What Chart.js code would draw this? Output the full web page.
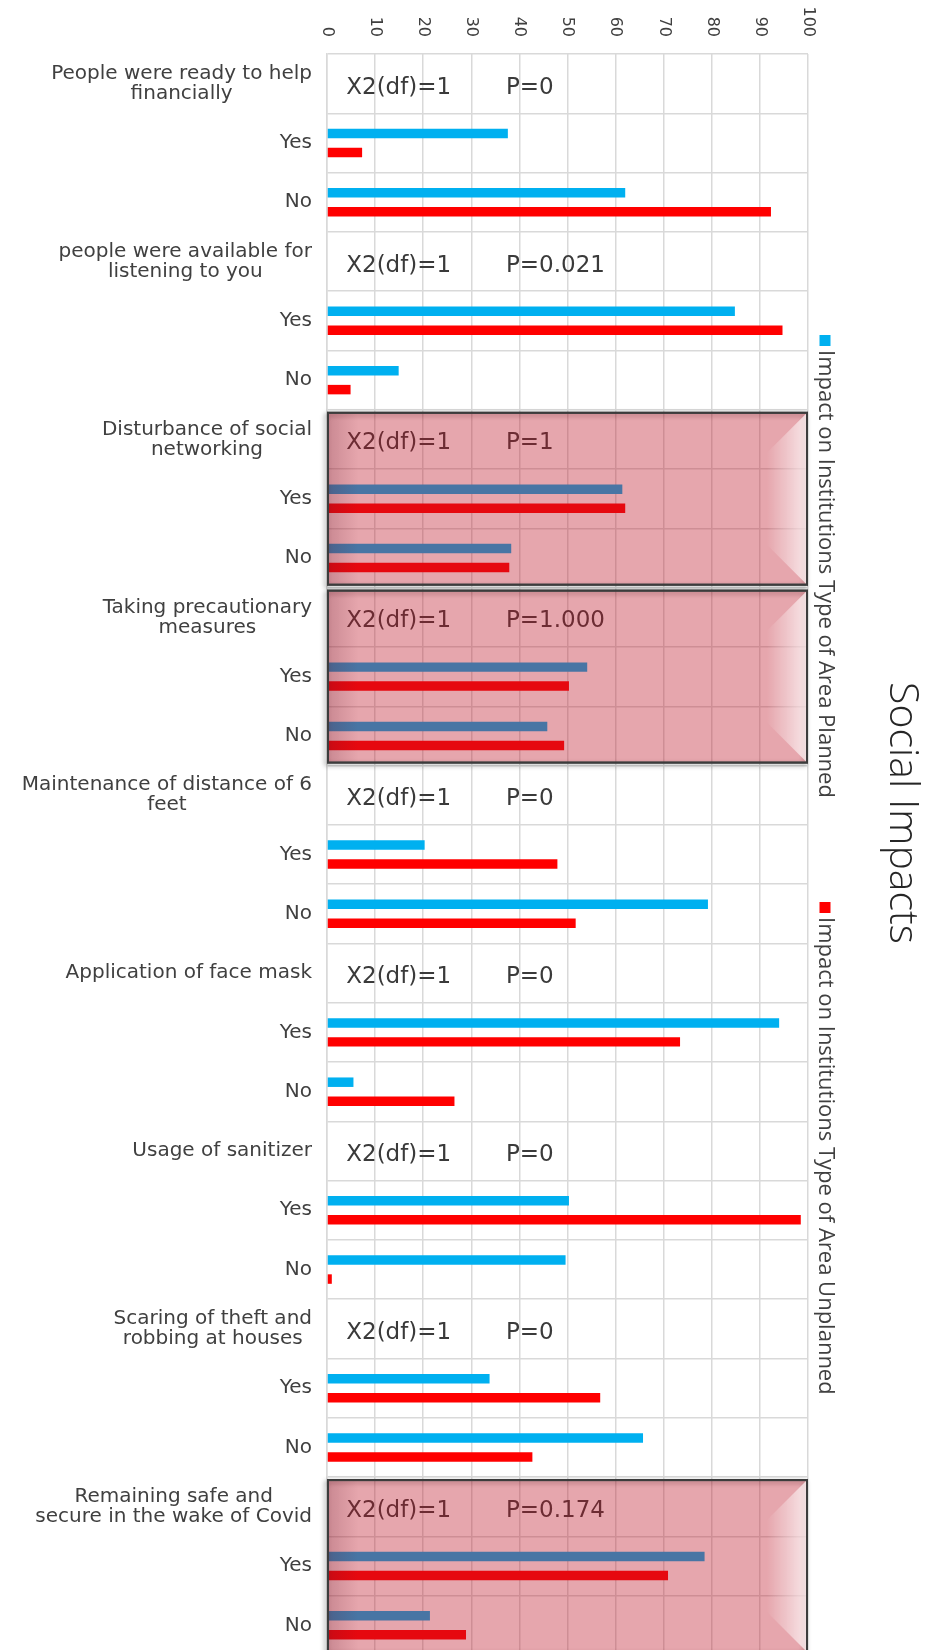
<!DOCTYPE html>
<html>
<head>
<meta charset="utf-8">
<title>Social Impacts</title>
<script src="https://cdn.jsdelivr.net/npm/chart.js@4.4.1/dist/chart.umd.min.js"></script>
<style>
  html, body { margin: 0; padding: 0; background: #ffffff; overflow: hidden; }
  #wrap { position: relative; width: 926px; height: 1656px; }
</style>
</head>
<body>
<div id="wrap"><canvas id="chart"></canvas></div>
<script>
// ---- data -------------------------------------------------------------
const questions = [
  ["People were ready to help", "financially"],
  ["people were available for", "listening to you"],
  ["Disturbance of social", "networking"],
  ["Taking precautionary", "measures"],
  ["Maintenance of distance of 6", "feet"],
  ["Application of face mask"],
  ["Usage of sanitizer"],
  ["Scaring of theft and", "robbing at houses"],
  ["Remaining safe and", "secure in the wake of Covid"]
];
const answers = ["Yes", "No"];
const chiSquare = ["X2(df)=1", "X2(df)=1", "X2(df)=1", "X2(df)=1", "X2(df)=1",
                   "X2(df)=1", "X2(df)=1", "X2(df)=1", "X2(df)=1"];
const pValues = ["P=0", "P=0.021", "P=1", "P=1.000", "P=0", "P=0", "P=0", "P=0", "P=0.174"];

const plannedYes   = [37.6, 84.8, 61.4, 54.1, 20.3, 94.0, 50.3, 33.8, 78.5];
const plannedNo    = [62.0, 14.9, 38.3, 45.8, 79.2,  5.5, 49.6, 65.7, 21.4];
const unplannedYes = [ 7.3, 94.7, 62.0, 50.3, 47.9, 73.4, 98.5, 56.8, 70.9];
const unplannedNo  = [92.3,  4.9, 37.9, 49.3, 51.7, 26.5,  1.0, 42.7, 28.9];

const seriesNames = ["Impact on Institutions Type of Area Planned",
                     "Impact on Institutions Type of Area Unplanned"];
const chartTitle = "Social Impacts";

// groups framed by a shaded box (question index)
const boxedQuestions = [2, 3, 8];

// value axis
const axisMin = 0, axisMax = 100, axisStep = 10;

// ---- build rows: question header row, then Yes, then No ---------------
const labels = [], planned = [], unplanned = [];
questions.forEach((q, i) => {
  labels.push(q, answers[0], answers[1]);
  planned.push(null, plannedYes[i], plannedNo[i]);
  unplanned.push(null, unplannedYes[i], unplannedNo[i]);
});

// ---- styling ----------------------------------------------------------
const SANS = '"DejaVu Sans", sans-serif';
const SIDE = '"Open Sans", "DejaVu Sans", sans-serif';
const TEXT = '#404040';
const GRID = '#d9d9d9';

// category labels: blocks right-aligned to the plot, lines centred in a block
const categoryLabels = {
  id: 'categoryLabels',
  afterDraw(chart) {
    const { ctx, chartArea, scales: { y } } = chart;
    ctx.save();
    ctx.font = `20px ${SANS}`;
    ctx.fillStyle = TEXT;
    ctx.textAlign = 'center';
    ctx.textBaseline = 'middle';
    const right = chartArea.left - 15;
    const lineH = 20;
    chart.data.labels.forEach((lab, i) => {
      const lines = Array.isArray(lab) ? lab : [lab];
      const w = Math.max(...lines.map(l => ctx.measureText(l).width));
      const cx = right - w / 2;
      const yc = y.getPixelForTick(i);
      lines.forEach((l, j) => ctx.fillText(l, cx, yc + (j - (lines.length - 1) / 2) * lineH));
    });
    ctx.restore();
  }
};

// value-axis tick labels along the top, turned a quarter clockwise
const topTicks = {
  id: 'topTicks',
  afterDraw(chart) {
    const { ctx, chartArea, scales: { x } } = chart;
    ctx.save();
    ctx.font = `16px ${SANS}`;
    ctx.fillStyle = TEXT;
    ctx.textAlign = 'right';
    ctx.textBaseline = 'middle';
    x.ticks.forEach((t, i) => {
      ctx.save();
      ctx.translate(x.getPixelForTick(i), chartArea.top - 17);
      ctx.rotate(Math.PI / 2);
      ctx.fillText(String(t.value), 0, 0);
      ctx.restore();
    });
    ctx.restore();
  }
};

// chi-square notes in each header row, and the shaded frames over some groups
const groupNotes = {
  id: 'groupNotes',
  afterDatasetsDraw(chart) {
    const { ctx, chartArea, scales: { x, y } } = chart;
    ctx.save();
    ctx.font = `23px ${SANS}`;
    ctx.fillStyle = '#3a3a3a';
    ctx.textAlign = 'left';
    ctx.textBaseline = 'alphabetic';
    questions.forEach((q, i) => {
      const yc = y.getPixelForTick(i * 3) + 10;
      ctx.fillText(chiSquare[i], x.getPixelForValue(4), yc);
      ctx.fillText(pValues[i], x.getPixelForValue(37.2), yc);
    });

    const row = y.getPixelForTick(1) - y.getPixelForTick(0);
    boxedQuestions.forEach(i => {
      const top = y.getPixelForTick(i * 3) - row / 2 + 3;
      const bottom = y.getPixelForTick(i * 3 + 2) + row / 2 - 3;
      const left = chartArea.left + 1, right = chartArea.right - 1;
      const w = right - left, h = bottom - top;

      // drop shadow of the frame
      ctx.save();
      ctx.shadowColor = 'rgba(0,0,0,0.45)';
      ctx.shadowBlur = 5;
      ctx.shadowOffsetX = -2;
      ctx.shadowOffsetY = 2;
      ctx.strokeStyle = '#3c3c3c';
      ctx.lineWidth = 2;
      ctx.strokeRect(left, top, w, h);
      ctx.restore();

      // translucent red wash
      ctx.fillStyle = 'rgba(190,22,40,0.38)';
      ctx.fillRect(left + 1, top + 1, w - 2, h - 2);

      // darker inner edge on the left
      const lg = ctx.createLinearGradient(left, 0, left + 30, 0);
      lg.addColorStop(0, 'rgba(90,20,40,0.20)');
      lg.addColorStop(1, 'rgba(90,20,40,0)');
      ctx.fillStyle = lg;
      ctx.fillRect(left + 1, top + 1, 30, h - 2);

      // light bevel on the right
      const b = 40;
      const rg = ctx.createLinearGradient(right - b, 0, right, 0);
      rg.addColorStop(0, 'rgba(255,255,255,0)');
      rg.addColorStop(1, 'rgba(255,255,255,0.72)');
      ctx.beginPath();
      ctx.moveTo(right - 1, top + 1);
      ctx.lineTo(right - 1 - b, top + 1 + b);
      ctx.lineTo(right - 1 - b, bottom - 1 - b);
      ctx.lineTo(right - 1, bottom - 1);
      ctx.closePath();
      ctx.fillStyle = rg;
      ctx.fill();

      ctx.strokeStyle = '#3c3c3c';
      ctx.lineWidth = 2;
      ctx.strokeRect(left, top, w, h);
    });
    ctx.restore();
  }
};

// legend and title running down the right side, turned a quarter clockwise
const sideText = {
  id: 'sideText',
  afterDraw(chart) {
    const { ctx, chartArea } = chart;
    const legendTop = 335, slot = 567, box = 11;
    const cx = chartArea.right + 17;
    ctx.save();
    ctx.font = `22px ${SIDE}`;
    chart.data.datasets.forEach((ds, i) => {
      const y0 = legendTop + i * slot;
      ctx.fillStyle = ds.backgroundColor;
      ctx.fillRect(cx - box / 2, y0, box, box);
      ctx.save();
      ctx.translate(cx, y0 + box + 4);
      ctx.rotate(Math.PI / 2);
      ctx.fillStyle = TEXT;
      ctx.textAlign = 'left';
      ctx.textBaseline = 'middle';
      ctx.fillText(ds.label, 0, 0);
      ctx.restore();
    });

    // chart title
    ctx.save();
    ctx.translate(chartArea.right + 94, 813);
    ctx.rotate(Math.PI / 2);
    ctx.font = `300 41px ${SIDE}`;
    ctx.fillStyle = '#262626';
    ctx.textAlign = 'center';
    ctx.textBaseline = 'middle';
    ctx.fillText(chartTitle, 0, 0);
    ctx.restore();
    ctx.restore();
  }
};

new Chart(document.getElementById('chart'), {
  type: 'bar',
  data: {
    labels: labels,
    datasets: [
      { label: seriesNames[0], data: planned, backgroundColor: '#00b0f0' },
      { label: seriesNames[1], data: unplanned, backgroundColor: '#ff0000' }
    ]
  },
  options: {
    indexAxis: 'y',
    responsive: true,
    maintainAspectRatio: false,
    animation: false,
    layout: { padding: { top: 54, left: 0, right: 118, bottom: 1 } },
    datasets: { bar: { categoryPercentage: 0.64, barPercentage: 0.5 } },
    scales: {
      x: {
        position: 'top',
        min: axisMin,
        max: axisMax,
        ticks: { display: false, stepSize: axisStep },
        grid: { color: GRID, lineWidth: 1.5, drawTicks: false },
        border: { display: false }
      },
      y: {
        ticks: { display: false },
        grid: { color: GRID, lineWidth: 1.5, drawTicks: false },
        border: { color: GRID, width: 1.5 },
        afterFit(scale) { scale.width = 327; }
      }
    },
    plugins: {
      legend: { display: false },
      tooltip: { enabled: false },
      title: { display: false, text: chartTitle }
    }
  },
  plugins: [groupNotes, categoryLabels, topTicks, sideText]
});
</script>
</body>
</html>
